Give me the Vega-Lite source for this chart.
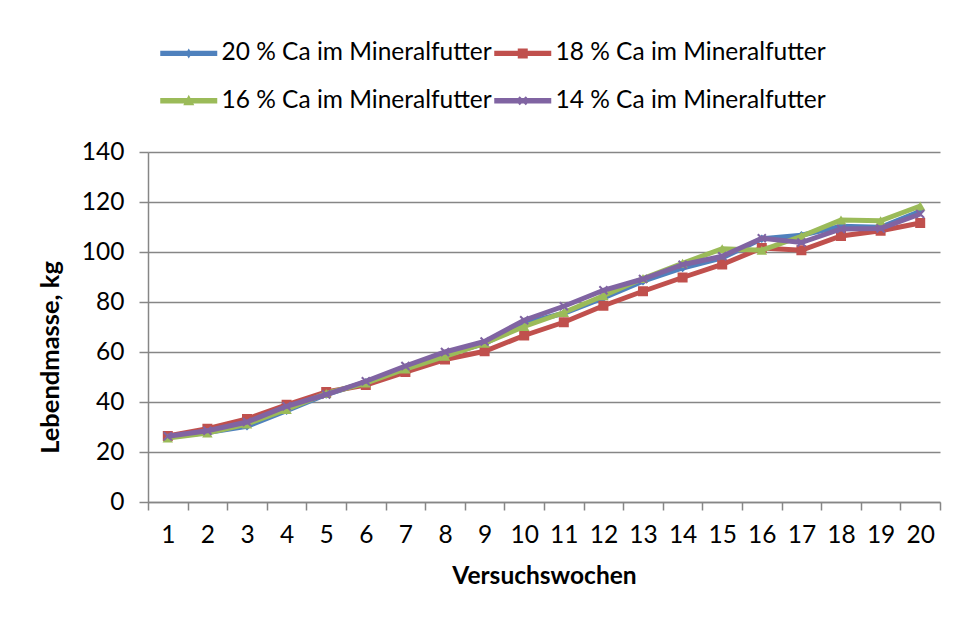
{
  "$schema": "https://vega.github.io/schema/vega-lite/v6.json",
  "width": 792,
  "height": 350,
  "autosize": {"type": "none"},
  "padding": {"left": 148, "top": 152, "right": 15, "bottom": 115},
  "background": "white",
  "config": {
    "view": {"stroke": null},
    "font": "Lato",
    "axis": {
      "labelFont": "Lato", "labelFontSize": 24.5, "labelColor": "#000000",
      "titleFont": "Lato", "titleFontWeight": "bold", "titleColor": "#000000",
      "domainColor": "#868686", "tickColor": "#868686", "gridColor": "#868686",
      "domainWidth": 1.5, "tickWidth": 1.5, "gridWidth": 1.5
    }
  },
  "data": {"values": [
    {"week": 1, "series": "20 % Ca im Mineralfutter", "value": 26.0},
    {"week": 2, "series": "20 % Ca im Mineralfutter", "value": 27.8},
    {"week": 3, "series": "20 % Ca im Mineralfutter", "value": 30.3},
    {"week": 4, "series": "20 % Ca im Mineralfutter", "value": 36.5},
    {"week": 5, "series": "20 % Ca im Mineralfutter", "value": 43.0},
    {"week": 6, "series": "20 % Ca im Mineralfutter", "value": 47.9},
    {"week": 7, "series": "20 % Ca im Mineralfutter", "value": 53.6},
    {"week": 8, "series": "20 % Ca im Mineralfutter", "value": 59.0},
    {"week": 9, "series": "20 % Ca im Mineralfutter", "value": 63.3},
    {"week": 10, "series": "20 % Ca im Mineralfutter", "value": 71.6},
    {"week": 11, "series": "20 % Ca im Mineralfutter", "value": 75.5},
    {"week": 12, "series": "20 % Ca im Mineralfutter", "value": 81.6},
    {"week": 13, "series": "20 % Ca im Mineralfutter", "value": 88.3},
    {"week": 14, "series": "20 % Ca im Mineralfutter", "value": 93.6},
    {"week": 15, "series": "20 % Ca im Mineralfutter", "value": 97.6},
    {"week": 16, "series": "20 % Ca im Mineralfutter", "value": 105.3},
    {"week": 17, "series": "20 % Ca im Mineralfutter", "value": 106.7},
    {"week": 18, "series": "20 % Ca im Mineralfutter", "value": 110.3},
    {"week": 19, "series": "20 % Ca im Mineralfutter", "value": 109.9},
    {"week": 20, "series": "20 % Ca im Mineralfutter", "value": 116.3},
    {"week": 1, "series": "18 % Ca im Mineralfutter", "value": 26.4},
    {"week": 2, "series": "18 % Ca im Mineralfutter", "value": 29.3},
    {"week": 3, "series": "18 % Ca im Mineralfutter", "value": 33.2},
    {"week": 4, "series": "18 % Ca im Mineralfutter", "value": 38.9},
    {"week": 5, "series": "18 % Ca im Mineralfutter", "value": 44.0},
    {"week": 6, "series": "18 % Ca im Mineralfutter", "value": 46.8},
    {"week": 7, "series": "18 % Ca im Mineralfutter", "value": 52.0},
    {"week": 8, "series": "18 % Ca im Mineralfutter", "value": 57.0},
    {"week": 9, "series": "18 % Ca im Mineralfutter", "value": 60.3},
    {"week": 10, "series": "18 % Ca im Mineralfutter", "value": 66.6},
    {"week": 11, "series": "18 % Ca im Mineralfutter", "value": 71.9},
    {"week": 12, "series": "18 % Ca im Mineralfutter", "value": 78.5},
    {"week": 13, "series": "18 % Ca im Mineralfutter", "value": 84.3},
    {"week": 14, "series": "18 % Ca im Mineralfutter", "value": 89.8},
    {"week": 15, "series": "18 % Ca im Mineralfutter", "value": 95.0},
    {"week": 16, "series": "18 % Ca im Mineralfutter", "value": 101.6},
    {"week": 17, "series": "18 % Ca im Mineralfutter", "value": 100.7},
    {"week": 18, "series": "18 % Ca im Mineralfutter", "value": 106.4},
    {"week": 19, "series": "18 % Ca im Mineralfutter", "value": 108.5},
    {"week": 20, "series": "18 % Ca im Mineralfutter", "value": 111.6},
    {"week": 1, "series": "16 % Ca im Mineralfutter", "value": 25.6},
    {"week": 2, "series": "16 % Ca im Mineralfutter", "value": 27.6},
    {"week": 3, "series": "16 % Ca im Mineralfutter", "value": 31.2},
    {"week": 4, "series": "16 % Ca im Mineralfutter", "value": 37.0},
    {"week": 5, "series": "16 % Ca im Mineralfutter", "value": 43.4},
    {"week": 6, "series": "16 % Ca im Mineralfutter", "value": 47.6},
    {"week": 7, "series": "16 % Ca im Mineralfutter", "value": 53.2},
    {"week": 8, "series": "16 % Ca im Mineralfutter", "value": 58.3},
    {"week": 9, "series": "16 % Ca im Mineralfutter", "value": 63.5},
    {"week": 10, "series": "16 % Ca im Mineralfutter", "value": 70.2},
    {"week": 11, "series": "16 % Ca im Mineralfutter", "value": 75.8},
    {"week": 12, "series": "16 % Ca im Mineralfutter", "value": 82.5},
    {"week": 13, "series": "16 % Ca im Mineralfutter", "value": 89.4},
    {"week": 14, "series": "16 % Ca im Mineralfutter", "value": 95.5},
    {"week": 15, "series": "16 % Ca im Mineralfutter", "value": 101.3},
    {"week": 16, "series": "16 % Ca im Mineralfutter", "value": 100.7},
    {"week": 17, "series": "16 % Ca im Mineralfutter", "value": 106.3},
    {"week": 18, "series": "16 % Ca im Mineralfutter", "value": 112.8},
    {"week": 19, "series": "16 % Ca im Mineralfutter", "value": 112.5},
    {"week": 20, "series": "16 % Ca im Mineralfutter", "value": 118.4},
    {"week": 1, "series": "14 % Ca im Mineralfutter", "value": 26.3},
    {"week": 2, "series": "14 % Ca im Mineralfutter", "value": 28.5},
    {"week": 3, "series": "14 % Ca im Mineralfutter", "value": 32.0},
    {"week": 4, "series": "14 % Ca im Mineralfutter", "value": 38.3},
    {"week": 5, "series": "14 % Ca im Mineralfutter", "value": 43.0},
    {"week": 6, "series": "14 % Ca im Mineralfutter", "value": 48.3},
    {"week": 7, "series": "14 % Ca im Mineralfutter", "value": 54.4},
    {"week": 8, "series": "14 % Ca im Mineralfutter", "value": 60.0},
    {"week": 9, "series": "14 % Ca im Mineralfutter", "value": 64.2},
    {"week": 10, "series": "14 % Ca im Mineralfutter", "value": 72.7},
    {"week": 11, "series": "14 % Ca im Mineralfutter", "value": 78.3},
    {"week": 12, "series": "14 % Ca im Mineralfutter", "value": 84.7},
    {"week": 13, "series": "14 % Ca im Mineralfutter", "value": 89.2},
    {"week": 14, "series": "14 % Ca im Mineralfutter", "value": 94.9},
    {"week": 15, "series": "14 % Ca im Mineralfutter", "value": 98.3},
    {"week": 16, "series": "14 % Ca im Mineralfutter", "value": 105.5},
    {"week": 17, "series": "14 % Ca im Mineralfutter", "value": 103.8},
    {"week": 18, "series": "14 % Ca im Mineralfutter", "value": 109.2},
    {"week": 19, "series": "14 % Ca im Mineralfutter", "value": 109.4},
    {"week": 20, "series": "14 % Ca im Mineralfutter", "value": 115.2}
  ]},
  "encoding": {
    "x": {
      "field": "week", "type": "ordinal",
      "scale": {"type": "band", "paddingInner": 0, "paddingOuter": 0},
      "axis": {
        "title": "Versuchswochen", "labelAngle": 0, "tickBand": "extent",
        "tickSize": 8, "labelPadding": 13, "titlePadding": 18, "titleFontSize": 24.5, "grid": false
      }
    },
    "y": {
      "field": "value", "type": "quantitative",
      "scale": {"domain": [0, 140], "nice": false},
      "axis": {
        "title": "Lebendmasse, kg", "values": [0, 20, 40, 60, 80, 100, 120, 140],
        "tickSize": 9, "labelPadding": 15, "titlePadding": 18, "titleFontSize": 25.5, "titleY": 205, "grid": true
      }
    },
    "color": {
      "field": "series", "type": "nominal",
      "scale": {
        "domain": ["20 % Ca im Mineralfutter", "18 % Ca im Mineralfutter", "16 % Ca im Mineralfutter", "14 % Ca im Mineralfutter"],
        "range": ["#4F81BD", "#C0504D", "#9BBB59", "#8064A2"]
      },
      "legend": {
        "title": null, "orient": "none", "legendX": 10, "legendY": -111,
        "columns": 2, "direction": "horizontal", "columnPadding": 0, "rowPadding": 22.5,
        "padding": 0, "symbolSize": 400, "labelOffset": 39,
        "labelFont": "Lato", "labelFontSize": 24.5, "labelColor": "#000000", "labelLimit": 400,
        "encode": {
          "symbols": {
            "update": {
              "shape": {"signal": "datum.value === '20 % Ca im Mineralfutter' ? 'M-1,-0.27H4.7V0.27H-1Z M1.85,-0.5L2.15,0L1.85,0.5L1.55,0Z' : datum.value === '18 % Ca im Mineralfutter' ? 'M-1,-0.27H4.7V0.27H-1Z M1.35,-0.5H2.35V0.5H1.35Z' : datum.value === '16 % Ca im Mineralfutter' ? 'M-1,-0.27H4.7V0.27H-1Z M1.85,-0.6L2.4,0.45H1.3Z' : 'M-1,-0.27H4.7V0.27H-1Z M1.4,-0.3L1.55,-0.45L1.85,-0.15L2.15,-0.45L2.3,-0.3L2,0L2.3,0.3L2.15,0.45L1.85,0.15L1.55,0.45L1.4,0.3L1.7,0Z'"},
              "fill": {"signal": "scale('color', datum.value)"},
              "fillOpacity": {"value": 1},
              "strokeWidth": {"value": 0},
              "size": {"value": 400}
            }
          }
        }
      }
    }
  },
  "layer": [
    {"transform": [{"filter": "datum.series === '20 % Ca im Mineralfutter'"}], "mark": {"type": "line", "strokeWidth": 5}},
    {"transform": [{"filter": "datum.series === '20 % Ca im Mineralfutter'"}], "mark": {"type": "point", "filled": true, "opacity": 1, "shape": "diamond", "size": 70}},
    {"transform": [{"filter": "datum.series === '18 % Ca im Mineralfutter'"}], "mark": {"type": "line", "strokeWidth": 5}},
    {"transform": [{"filter": "datum.series === '18 % Ca im Mineralfutter'"}], "mark": {"type": "point", "filled": true, "opacity": 1, "shape": "square", "size": 100}},
    {"transform": [{"filter": "datum.series === '16 % Ca im Mineralfutter'"}], "mark": {"type": "line", "strokeWidth": 5}},
    {"transform": [{"filter": "datum.series === '16 % Ca im Mineralfutter'"}], "mark": {"type": "point", "filled": true, "opacity": 1, "shape": "triangle-up", "size": 110}},
    {"transform": [{"filter": "datum.series === '14 % Ca im Mineralfutter'"}], "mark": {"type": "line", "strokeWidth": 5}},
    {"transform": [{"filter": "datum.series === '14 % Ca im Mineralfutter'"}], "mark": {"type": "point", "filled": true, "opacity": 1, "size": 90, "shape": "M-1,-0.7L-0.7,-1L0,-0.3L0.7,-1L1,-0.7L0.3,0L1,0.7L0.7,1L0,0.3L-0.7,1L-1,0.7L-0.3,0Z"}}
  ]
}
